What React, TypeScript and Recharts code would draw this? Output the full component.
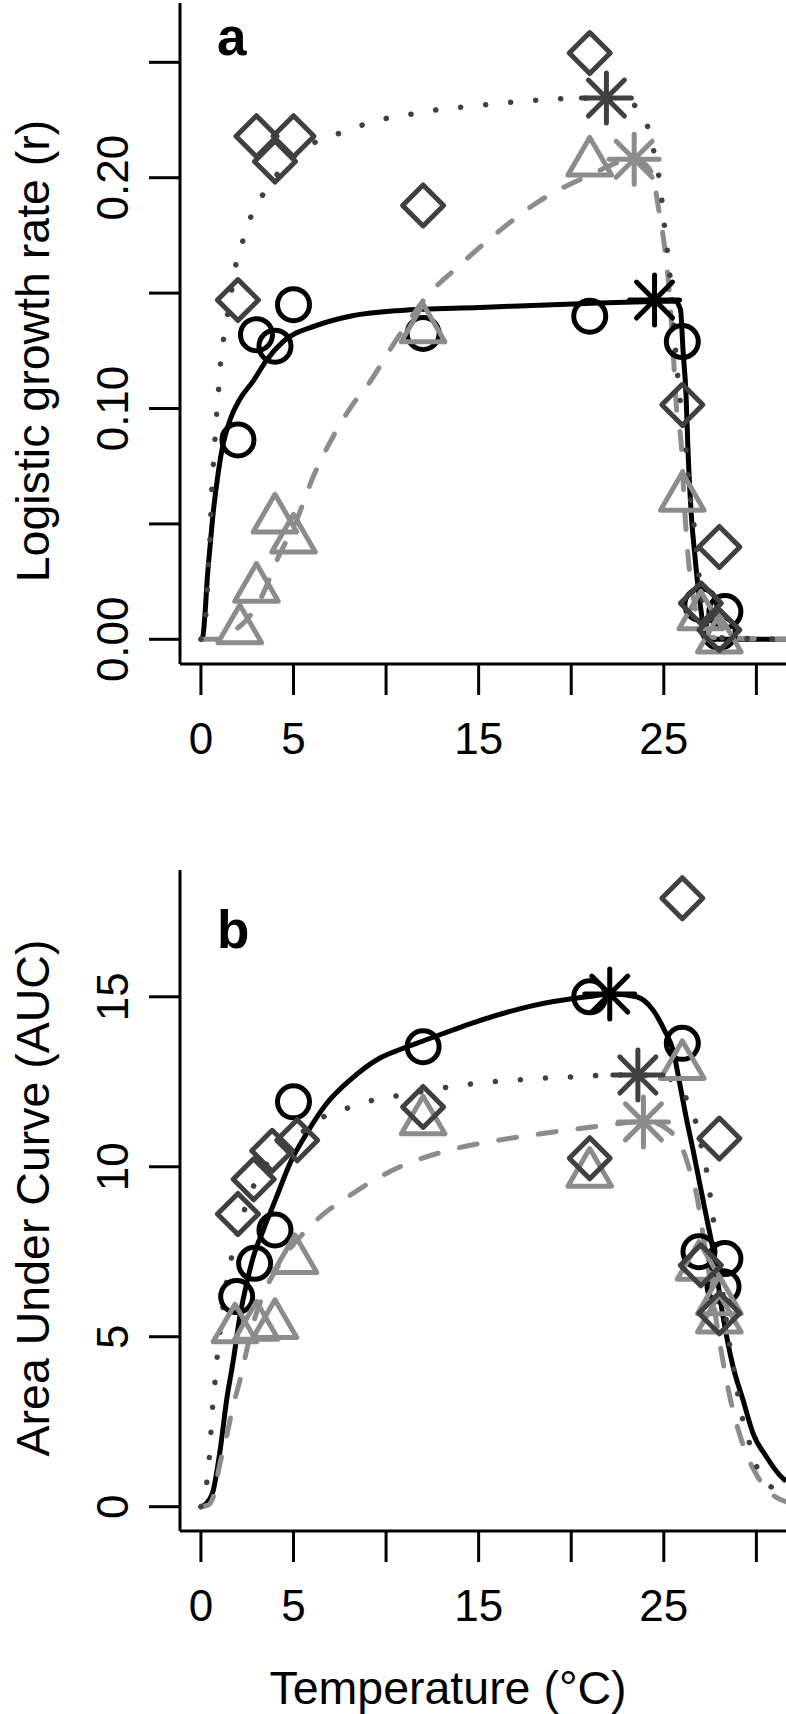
import React from 'react';
import { ComposedChart, XAxis, YAxis, Line, Scatter, Customized } from 'recharts';

const FONT = '"Liberation Sans", Arial, Helvetica, sans-serif';
const BLACK = '#000000';
const DARK = '#404040';
const LIGHT = '#8c8c8c';

// ---------- ticks ----------
const xTicks = [0, 5, 10, 15, 20, 25, 30];
const xTickLabels = ['0', '5', '', '15', '', '25', ''];
const aYTicks = [0, 0.05, 0.1, 0.15, 0.2, 0.25];
const aYTickLabels = ['0.00', '', '0.10', '', '0.20', ''];
const bYTicks = [0, 5, 10, 15];
const bYTickLabels = ['0', '5', '10', '15'];

// ---------- panel a: logistic growth rate ----------
const aCircleT = [2, 3, 4, 5, 12, 21, 26, 27, 28.3, 28];
const aCircleR = [0.0864, 0.132, 0.127, 0.145, 0.1325, 0.14, 0.129, 0.015, 0.012, 0.003];
const aDiamondT = [2, 3, 4, 5, 12, 21, 26, 27, 28, 28];
const aDiamondR = [0.147, 0.218, 0.207, 0.218, 0.188, 0.254, 0.1016, 0.0156, 0.04, 0.004];
const aTriT = [2.1, 3, 4, 5, 12, 21, 26, 27, 28];
const aTriR = [0.004, 0.022, 0.052, 0.0433, 0.1344, 0.2066, 0.0614, 0.01, 0.0];
const aStarBlack = [{ x: 24.5, y: 0.147 }];
const aStarDark = [{ x: 21.9, y: 0.2345 }];
const aStarLight = [{ x: 23.4, y: 0.208 }];

const aSolidT = [0, 0.1, 0.22, 0.34, 0.49, 0.66, 0.88, 1.17, 1.57, 2.1, 2.83, 3.55, 4.44, 6.25, 8.05, 10.75, 15.06, 20.46, 24.43, 25.6, 25.9, 26.04, 26.2, 26.3, 26.48, 26.67, 26.85, 27.03, 27.2, 27.35, 31.6];
const aSolidR = [0, 0.001, 0.011, 0.026, 0.04, 0.0546, 0.069, 0.0835, 0.095, 0.104, 0.112, 0.121, 0.129, 0.136, 0.14, 0.1425, 0.1438, 0.1454, 0.1464, 0.1466, 0.143, 0.125, 0.106, 0.0835, 0.0546, 0.037, 0.0228, 0.0113, 0.002, 0, 0];
const aDotT = [0, 0.27, 0.34, 0.4, 0.49, 0.54, 0.59, 0.67, 0.76, 0.85, 0.97, 1.06, 1.24, 1.6, 1.93, 2.32, 2.79, 3.46, 4.27, 5.3, 6.46, 7.78, 9.03, 10.38, 11.73, 13.08, 14.47, 15.84, 17.22, 18.6, 19.96, 21.9, 23.0, 23.8, 24.28, 24.57, 24.82, 24.96, 25.1, 25.27, 25.38, 25.5, 25.69, 25.96, 26.13, 26.3, 26.4, 26.58, 26.73, 26.85, 27.03, 27.25, 27.5, 31.6];
const aDotR = [0, 0.011, 0.021, 0.032, 0.043, 0.054, 0.065, 0.076, 0.087, 0.098, 0.11, 0.12, 0.131, 0.148, 0.164, 0.174, 0.185, 0.194, 0.203, 0.211, 0.2165, 0.22, 0.2237, 0.2263, 0.228, 0.2298, 0.2309, 0.232, 0.233, 0.2338, 0.2344, 0.2345, 0.233, 0.228, 0.218, 0.207, 0.196, 0.185, 0.174, 0.163, 0.153, 0.141, 0.1197, 0.098, 0.0864, 0.075, 0.064, 0.053, 0.042, 0.031, 0.02, 0.009, 0.001, 0];
const aDashT = [0, 0.9, 1.5, 2.0, 2.47, 3.37, 4.09, 5.17, 6.07, 7.24, 8.22, 8.95, 10.57, 12.19, 13.9, 15.97, 18.3, 20.83, 23.4, 24.1, 24.46, 24.7, 25.05, 25.3, 25.5, 25.68, 25.95, 26.1, 26.3, 26.6, 26.9, 27.2, 31.6];
const aDashR = [0, 0, 0.002, 0.005, 0.0084, 0.02, 0.034, 0.0517, 0.0705, 0.0893, 0.102, 0.1095, 0.13, 0.1485, 0.1615, 0.176, 0.19, 0.2005, 0.208, 0.205, 0.199, 0.1875, 0.1695, 0.15, 0.1254, 0.1008, 0.0835, 0.06, 0.037, 0.018, 0.006, 0.001, 0];

// ---------- panel b: area under curve ----------
const bCircleT = [1.93, 2.9, 4, 5, 12, 21, 26, 26.9, 28.3, 28.2];
const bCircleV = [6.18, 7.16, 8.14, 11.91, 13.53, 15.0, 13.63, 7.5, 7.3, 6.47];
const bDiamondT = [2, 2.85, 3.85, 5.2, 12, 21, 26, 27, 28, 28];
const bDiamondV = [8.61, 9.63, 10.47, 10.78, 11.76, 10.25, 17.9, 7.1, 10.83, 5.69];
const bTriT = [1.84, 3, 4, 5.08, 12, 21, 26, 26.9, 28, 28];
const bTriV = [5.22, 5.3, 5.35, 7.26, 11.34, 9.8, 12.97, 7.06, 6.05, 5.51];
const bStarBlack = [{ x: 22.08, y: 15.08 }];
const bStarDark = [{ x: 23.6, y: 12.7 }];
const bStarLight = [{ x: 23.9, y: 11.32 }];

const bSolidT = [0, 0.3, 0.67, 1.04, 1.39, 1.75, 2.1, 2.47, 2.83, 3.37, 4.09, 4.81, 5.71, 6.79, 8.05, 9.67, 10.75, 12, 15.06, 17.76, 20.83, 22.27, 23.53, 24.43, 25.05, 25.5, 25.86, 26.2, 26.58, 26.94, 27.3, 27.66, 28.2, 28.74, 29.28, 29.82, 30.54, 31.26, 31.6];
const bSolidV = [0, 0.1, 0.49, 1.67, 3.14, 4.31, 5.59, 6.57, 7.35, 8.14, 9.12, 10.1, 10.98, 11.86, 12.55, 13.2, 13.45, 13.7, 14.3, 14.72, 15.0, 15.08, 15.0, 14.6, 14.0, 13.43, 12.45, 11.47, 10.49, 9.51, 8.53, 7.55, 5.59, 4.12, 3.14, 2.16, 1.47, 0.93, 0.75];
const bDotT = [0, 0.31, 0.45, 0.54, 0.63, 0.76, 0.88, 1.03, 1.2, 1.39, 1.66, 2.0, 2.38, 2.9, 3.9, 5.2, 6.79, 8.14, 9.45, 10.75, 13.44, 14.85, 16.24, 17.59, 18.97, 20.34, 21.69, 23.6, 24.8, 25.74, 26.4, 26.85, 27.12, 27.4, 27.57, 27.75, 28.0, 28.3, 28.65, 28.9, 29.1, 29.47, 29.82, 30.45, 31.0, 31.6];
const bDotV = [0, 0.69, 1.42, 2.18, 2.94, 3.68, 4.41, 5.15, 5.9, 6.62, 7.35, 8.1, 8.78, 9.5, 10.3, 10.9, 11.52, 11.76, 11.98, 12.1, 12.35, 12.45, 12.52, 12.57, 12.62, 12.65, 12.69, 12.7, 12.65, 12.45, 11.76, 11.08, 10.34, 9.61, 8.87, 8.14, 7.1, 5.8, 4.41, 3.68, 2.94, 2.21, 1.47, 0.78, 0.5, 0.3];
const bDashT = [0, 0.4, 0.67, 1.0, 1.4, 1.75, 2.1, 2.47, 2.83, 3.5, 4.27, 6.07, 8.22, 10.75, 13.44, 16.05, 18.75, 21.54, 23.9, 24.6, 25.2, 25.6, 26.04, 26.4, 26.8, 27.2, 27.6, 28.0, 28.5, 29.0, 29.5, 30.0, 30.5, 31.0, 31.6];
const bDashV = [0, 0.05, 0.3, 1.2, 2.1, 3.0, 3.7, 4.6, 5.4, 6.4, 7.16, 8.34, 9.22, 10.0, 10.49, 10.78, 11.0, 11.2, 11.32, 11.28, 11.1, 10.9, 10.49, 9.9, 9.1, 7.7, 6.3, 4.9, 3.4, 2.3, 1.5, 0.95, 0.55, 0.3, 0.15];

const zip = (xs: number[], ys: number[]) => xs.map((x, i) => ({ x, y: ys[i] }));

// ---------- layout constants ----------
const W = 786;
const H = 794;
const PLOT_TOP = 3;
const Y_AXIS_W = 180;
const X_AXIS_H = 130;
const X_DOMAIN: [number, number] = [-1.13, 31.6];
const TICK_FS = 44;
const LAB_FS = 46.5;
const MARK_SW = 5;
const LINE_SW = 5;

// ---------- marker shapes ----------
const circleShape = (color: string) => (p: any) => (
  <circle cx={p.cx} cy={p.cy} r={16} fill="none" stroke={color} strokeWidth={MARK_SW} />
);
const diamondShape = (color: string) => (p: any) => {
  const d = 20.5;
  return (
    <polygon
      points={`${p.cx},${p.cy - d} ${p.cx + d},${p.cy} ${p.cx},${p.cy + d} ${p.cx - d},${p.cy}`}
      fill="none" stroke={color} strokeWidth={MARK_SW} strokeLinejoin="round"
    />
  );
};
const triShape = (color: string) => (p: any) => {
  const top = 25, bot = 12.6, hw = 21.8;
  return (
    <polygon
      points={`${p.cx},${p.cy - top} ${p.cx + hw},${p.cy + bot} ${p.cx - hw},${p.cy + bot}`}
      fill="none" stroke={color} strokeWidth={MARK_SW} strokeLinejoin="round"
    />
  );
};
const starShape = (color: string) => (p: any) => {
  const a = 25, d = 18;
  const { cx, cy } = p;
  return (
    <g stroke={color} strokeWidth={MARK_SW} strokeLinecap="round">
      <line x1={cx - a} y1={cy} x2={cx + a} y2={cy} />
      <line x1={cx} y1={cy - a} x2={cx} y2={cy + a} />
      <line x1={cx - d} y1={cy - d} x2={cx + d} y2={cy + d} />
      <line x1={cx - d} y1={cy + d} x2={cx + d} y2={cy - d} />
    </g>
  );
};

// ---------- ticks ----------
const XTick = (props: any) => {
  const { x, payload } = props;
  const i = xTicks.indexOf(payload.value);
  const label = i >= 0 ? xTickLabels[i] : '';
  return (
    <text x={x} y={PLOT_TOP + 661 + 90} textAnchor="middle" fontSize={TICK_FS} fontFamily={FONT} fill={BLACK}>
      {label}
    </text>
  );
};
const makeYTick = (ticks: number[], labels: string[]) => (props: any) => {
  const { y, payload } = props;
  let idx = -1;
  ticks.forEach((t, i) => { if (Math.abs(t - payload.value) < 1e-9) idx = i; });
  const label = idx >= 0 ? labels[idx] : '';
  return (
    <text transform={`translate(128 ${y}) rotate(-90)`} textAnchor="middle" fontSize={TICK_FS} fontFamily={FONT} fill={BLACK}>
      {label}
    </text>
  );
};

const axisStroke = { stroke: BLACK, strokeWidth: 3 };

interface PanelProps {
  letter: string;
  letterY: number;
  yTitle: string;
  yTitleY: number;
  yDomain: [number, number];
  yTicks: number[];
  yTickLabels: string[];
  circles: { x: number; y: number }[];
  diamonds: { x: number; y: number }[];
  tris: { x: number; y: number }[];
  solid: { x: number; y: number }[];
  dotted: { x: number; y: number }[];
  dashed: { x: number; y: number }[];
  starBlack: { x: number; y: number }[];
  starDark: { x: number; y: number }[];
  starLight: { x: number; y: number }[];
  xTitle?: string;
  height: number;
}

const Panel = (p: PanelProps) => (
  <ComposedChart
    width={W}
    height={p.height}
    margin={{ top: PLOT_TOP, right: 0, bottom: p.height - H, left: 0 }}
    style={{ fontFamily: FONT }}
  >
    <XAxis
      type="number"
      dataKey="x"
      domain={X_DOMAIN}
      allowDataOverflow
      ticks={xTicks}
      interval={0}
      tickSize={31}
      height={X_AXIS_H}
      axisLine={axisStroke}
      tickLine={axisStroke}
      tick={<XTick />}
    />
    <YAxis
      type="number"
      dataKey="y"
      domain={p.yDomain}
      allowDataOverflow
      ticks={p.yTicks}
      interval={0}
      tickSize={31}
      width={Y_AXIS_W}
      axisLine={axisStroke}
      tickLine={axisStroke}
      tick={makeYTick(p.yTicks, p.yTickLabels)}
    />
    <Scatter data={p.circles} shape={circleShape(BLACK)} isAnimationActive={false} />
    <Scatter data={p.tris} shape={triShape(LIGHT)} isAnimationActive={false} />
    <Scatter data={p.diamonds} shape={diamondShape(DARK)} isAnimationActive={false} />
    <Line data={p.solid} dataKey="y" type="monotone" stroke={BLACK} strokeWidth={LINE_SW} dot={false} activeDot={false} isAnimationActive={false} />
    <Line data={p.dashed} dataKey="y" type="monotone" stroke={LIGHT} strokeWidth={LINE_SW} strokeDasharray="18 22" strokeLinecap="round" dot={false} activeDot={false} isAnimationActive={false} />
    <Line data={p.dotted} dataKey="y" type="monotone" stroke={DARK} strokeWidth={5.5} strokeDasharray="0.1 25" strokeLinecap="round" dot={false} activeDot={false} isAnimationActive={false} />
    <Scatter data={p.starBlack} shape={starShape(BLACK)} isAnimationActive={false} />
    <Scatter data={p.starDark} shape={starShape(DARK)} isAnimationActive={false} />
    <Scatter data={p.starLight} shape={starShape(LIGHT)} isAnimationActive={false} />
    <Customized
      component={
        <g>
          <text x={217} y={p.letterY} fontSize={53} fontWeight="bold" fontFamily={FONT} fill={BLACK}>
            {p.letter}
          </text>
          <text transform={`translate(49 ${p.yTitleY}) rotate(-90)`} textAnchor="middle" fontSize={LAB_FS} fontFamily={FONT} fill={BLACK}>
            {p.yTitle}
          </text>
          {p.xTitle ? (
            <text x={448} y={837} textAnchor="middle" fontSize={LAB_FS} fontFamily={FONT} fill={BLACK}>
              {p.xTitle}
            </text>
          ) : null}
        </g>
      }
    />
  </ComposedChart>
);

export default function App() {
  return (
    <div style={{ position: 'absolute', left: 0, top: 0, width: W, height: 1714, background: '#fff', overflow: 'hidden' }}>
      <div style={{ position: 'absolute', left: 0, top: 0 }}>
        <Panel
          letter="a"
          letterY={55}
          yTitle="Logistic growth rate (r)"
          yTitleY={351}
          yDomain={[-0.0107, 0.2757]}
          yTicks={aYTicks}
          yTickLabels={aYTickLabels}
          circles={zip(aCircleT, aCircleR)}
          diamonds={zip(aDiamondT, aDiamondR)}
          tris={zip(aTriT, aTriR)}
          solid={zip(aSolidT, aSolidR)}
          dotted={zip(aDotT, aDotR)}
          dashed={zip(aDashT, aDashR)}
          starBlack={aStarBlack}
          starDark={aStarDark}
          starLight={aStarLight}
          height={H}
        />
      </div>
      <div style={{ position: 'absolute', left: 0, top: 867 }}>
        <Panel
          letter="b"
          letterY={81}
          yTitle="Area Under Curve (AUC)"
          yTitleY={331}
          yDomain={[-0.715, 18.73]}
          yTicks={bYTicks}
          yTickLabels={bYTickLabels}
          circles={zip(bCircleT, bCircleV)}
          diamonds={zip(bDiamondT, bDiamondV)}
          tris={zip(bTriT, bTriV)}
          solid={zip(bSolidT, bSolidV)}
          dotted={zip(bDotT, bDotV)}
          dashed={zip(bDashT, bDashV)}
          starBlack={bStarBlack}
          starDark={bStarDark}
          starLight={bStarLight}
          xTitle="Temperature (°C)"
          height={847}
        />
      </div>
    </div>
  );
}
